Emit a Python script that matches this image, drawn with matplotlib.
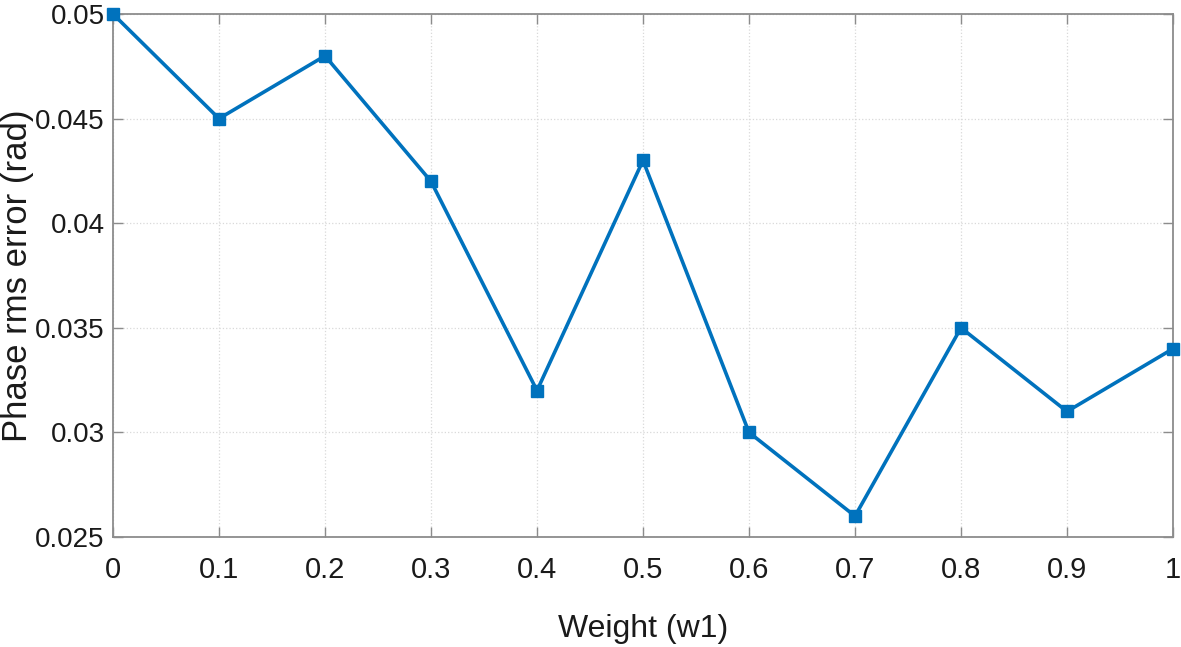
import matplotlib
matplotlib.use("Agg")
import matplotlib.pyplot as plt

weights = [0, 0.1, 0.2, 0.3, 0.4, 0.5, 0.6, 0.7, 0.8, 0.9, 1.0]
errors = [0.050, 0.045, 0.048, 0.042, 0.032, 0.043, 0.030, 0.026, 0.035, 0.031, 0.034]
xticks = [0, 0.1, 0.2, 0.3, 0.4, 0.5, 0.6, 0.7, 0.8, 0.9, 1]
xticklabels = ["0", "0.1", "0.2", "0.3", "0.4", "0.5", "0.6", "0.7", "0.8", "0.9", "1"]
yticks = [0.025, 0.03, 0.035, 0.04, 0.045, 0.05]
yticklabels = ["0.025", "0.03", "0.035", "0.04", "0.045", "0.05"]

plt.rcParams['font.family'] = ['Liberation Sans', 'DejaVu Sans']

W, H = 1181, 647
fig = plt.figure(figsize=(W / 100, H / 100), dpi=100)
L, R, T, B = 113, 1173, 14, 537
ax = fig.add_axes([L / W, 1 - B / H, (R - L) / W, (B - T) / H])

ax.plot(weights, errors, color='#0072BD', linewidth=2.6, marker='s',
        markersize=8, markerfacecolor='#0072BD', markeredgecolor='#0072BD',
        clip_on=False, zorder=3)

ax.set_xlim(0, 1)
ax.set_ylim(0.025, 0.05)
ax.set_xticks(xticks)
ax.set_xticklabels(xticklabels)
ax.set_yticks(yticks)
ax.set_yticklabels(yticklabels)

ax.grid(True, color='#d9d9d9', linestyle=':', linewidth=0.9)
for s in ax.spines.values():
    s.set_color('#8c8c8c')
    s.set_linewidth(1.3)
ax.tick_params(direction='in', length=7, width=1.0, color='#8c8c8c',
               top=True, right=True, labelsize=21, labelcolor='#1a1a1a')
ax.tick_params(axis='x', pad=14)
ax.tick_params(axis='y', pad=6, labelsize=20)

ax.set_xlabel('Weight (w1)', fontsize=23, color='#1a1a1a')
ax.xaxis.set_label_coords(0.5, -(614 - B) / (B - T))
ax.set_ylabel('Phase rms error (rad)', fontsize=25, color='#1a1a1a')
ax.yaxis.set_label_coords(-(L - 34) / (R - L), 0.5)

fig.savefig('out.png', dpi=100)
